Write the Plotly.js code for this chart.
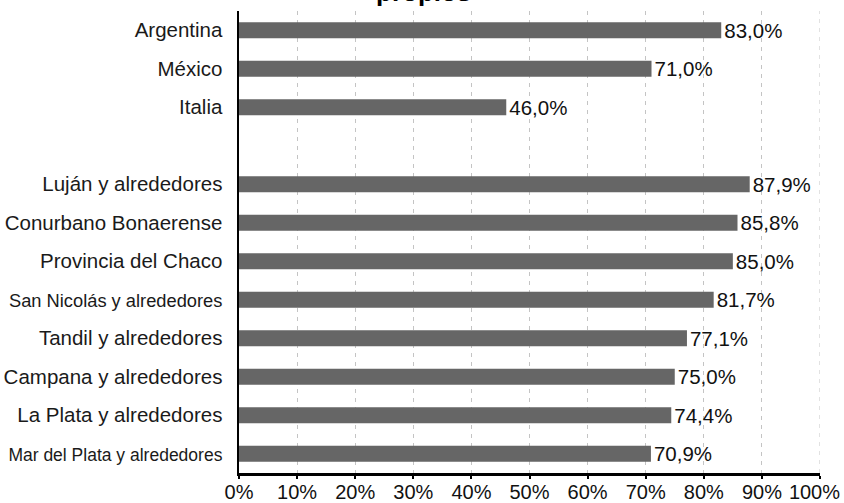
<!DOCTYPE html>
<html>
<head>
<meta charset="utf-8">
<script src="https://cdn.plot.ly/plotly-3.0.1.min.js"></script>
<style>
  html, body { margin: 0; padding: 0; background: #ffffff; }
  #chart { width: 844px; height: 503px; }
</style>
</head>
<body>
<div id="chart"></div>
<script>
// Regions and their shares (percent); the empty slot separates the two groups
const categories = [
  "Argentina", "México", "Italia", " ",
  "Luján y alrededores", "Conurbano Bonaerense", "Provincia del Chaco",
  "San Nicolás y alrededores", "Tandil y alrededores", "Campana y alrededores",
  "La Plata y alrededores", "Mar del Plata y alrededores"
];
const values = [83.0, 71.0, 46.0, null, 87.9, 85.8, 85.0, 81.7, 77.1, 75.0, 74.4, 70.9];

// The two longest labels are set smaller so they fit the left margin
const smallLabelSizes = {
  "San Nicolás y alrededores": 18.3,
  "Mar del Plata y alrededores": 17.5
};
const tickLabels = categories.map(c =>
  smallLabelSizes[c]
    ? '<span style="font-size:' + smallLabelSizes[c] + 'px">' + c + '</span>'
    : c
);

const xTickVals = [0, 10, 20, 30, 40, 50, 60, 70, 80, 90, 100];
// trailing no-break spaces keep the last label inside the page edge
const xTickText = ["0%", "10%", "20%", "30%", "40%", "50%", "60%", "70%", "80%", "90%", "100%\u00a0\u00a0"];

const FONT = "Liberation Sans, Arial, sans-serif";
const GRID_DASH = "4px,5px";
const GRID_COLOR = "#c4c4c4";

const trace = {
  type: "bar",
  orientation: "h",
  y: categories,
  x: values,
  marker: { color: "#666666" },
  texttemplate: "%{x:.1f}%",
  textposition: "outside",
  constraintext: "none",
  cliponaxis: false,
  textfont: { family: FONT, size: 20.5, color: "#111111" },
  hoverinfo: "skip"
};

const layout = {
  width: 844,
  height: 503,
  separators: ",.",
  margin: { l: 239, r: 24, t: 11, b: 30, pad: 0 },
  paper_bgcolor: "#ffffff",
  plot_bgcolor: "#ffffff",
  bargap: 0.584,
  showlegend: false,
  font: { family: FONT, size: 20.5, color: "#111111" },
  xaxis: {
    range: [0, 100],
    tickmode: "array",
    tickvals: xTickVals,
    ticktext: xTickText,
    ticklabeloverflow: "allow",
    showgrid: true,
    gridcolor: GRID_COLOR,
    gridwidth: 1,
    griddash: GRID_DASH,
    zeroline: false,
    showline: true,
    linecolor: "#000000",
    linewidth: 2.5,
    ticks: "outside",
    ticklen: 3,
    tickwidth: 2,
    tickcolor: "#000000",
    ticklabelstandoff: -4,
    tickfont: { family: FONT, size: 20, color: "#111111" },
    automargin: false,
    fixedrange: true
  },
  yaxis: {
    type: "category",
    categoryorder: "array",
    categoryarray: categories,
    autorange: "reversed",
    tickmode: "array",
    tickvals: categories,
    ticktext: tickLabels,
    showgrid: false,
    zeroline: false,
    showline: true,
    linecolor: "#000000",
    linewidth: 2.5,
    ticks: "",
    ticklabelstandoff: 10,
    tickfont: { family: FONT, size: 20.5, color: "#1a1a1a" },
    automargin: false,
    fixedrange: true
  },
  // grid line at the far end of the value axis
  shapes: [{
    type: "line",
    xref: "x",
    yref: "paper",
    x0: 100, x1: 100,
    y0: 0, y1: 1,
    layer: "below",
    line: { color: GRID_COLOR, width: 1, dash: GRID_DASH }
  }],
  annotations: [{
    text: "<b>propios</b>",
    xref: "paper",
    yref: "paper",
    x: 0.317,
    y: 1.0045,
    xanchor: "center",
    yanchor: "bottom",
    showarrow: false,
    font: { family: FONT, size: 26, color: "#000000" }
  }]
};

Plotly.newPlot("chart", [trace], layout, { displayModeBar: false, staticPlot: true });
</script>
</body>
</html>
